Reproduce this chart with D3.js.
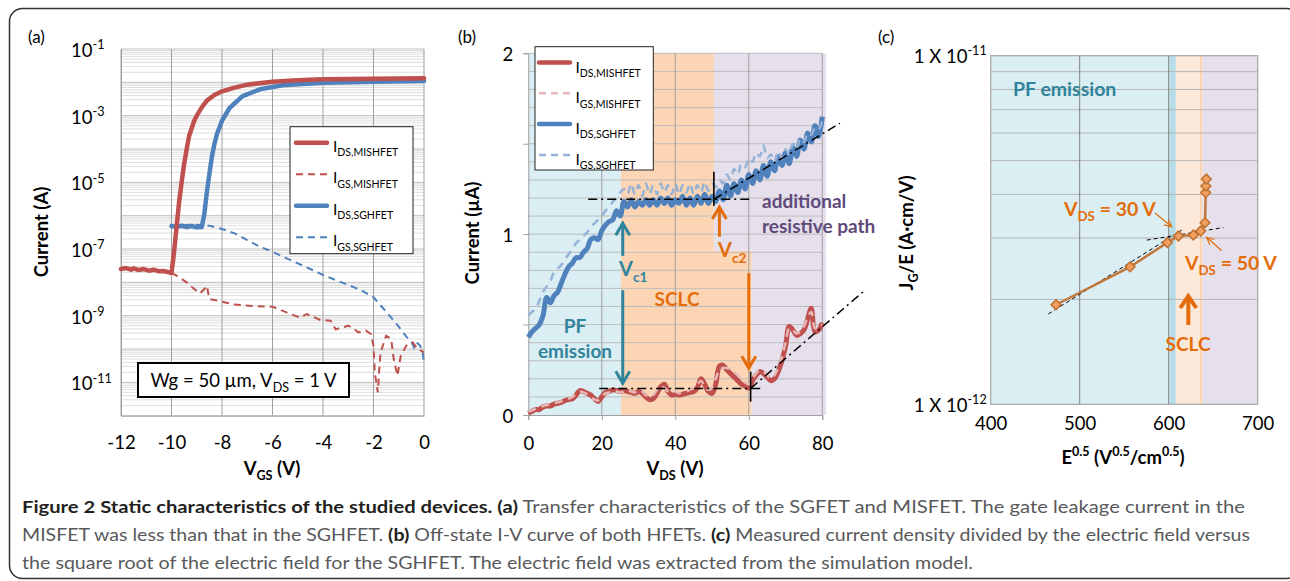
<!DOCTYPE html>
<html><head><meta charset="utf-8">
<script src="https://cdn.jsdelivr.net/npm/d3@7"></script>
<style>
body{margin:0;background:#fff;}
svg{display:block;font-family:Lato,'Open Sans',sans-serif;}
</style></head><body>
<svg id="c" width="1290" height="581"></svg>
<script>
// ================= DATA =================
// Panel (a): transfer characteristics (log10 of current in A)
const vgsIdsMis = [-12,-11.8,-11.6,-11.5,-11.3,-11.1,-10.9,-10.7,-10.5,-10.3,-10.1,-10.0,-9.9,-9.8,-9.7,-9.6,-9.5,-9.4,-9.3,-9.1,-9.0,-8.8,-8.6,-8.3,-8.0,-7.5,-7.0,-6.0,-5.0,-4.0,-2.0,0];
const idsMisLog = [-7.6,-7.57,-7.62,-7.58,-7.63,-7.6,-7.65,-7.62,-7.67,-7.66,-7.7,-7.72,-7.1,-6.35,-5.6,-5.0,-4.45,-4.0,-3.6,-3.15,-3.0,-2.75,-2.55,-2.38,-2.27,-2.16,-2.07,-1.98,-1.94,-1.91,-1.89,-1.88];
const vgsIgsMis = [-10,-9.8,-9.4,-9.1,-8.87,-8.7,-8.6,-8.5,-8.1,-7.56,-6.76,-6,-5.45,-4.9,-4.65,-4.1,-3.7,-3.5,-3.0,-2.8,-2.6,-2.3,-2.1,-2.0,-1.95,-1.83,-1.78,-1.72,-1.5,-1.3,-1.2,-1.05,-0.92,-0.7,-0.45,-0.25,0];
const igsMisLog = [-7.72,-7.8,-8.0,-8.2,-8.33,-8.2,-8.1,-8.5,-8.56,-8.66,-8.71,-8.73,-8.9,-9.06,-8.95,-9.13,-9.15,-9.41,-9.3,-9.38,-9.5,-9.45,-9.55,-9.9,-10.7,-11.3,-10.7,-10.1,-9.6,-9.7,-10.3,-10.8,-10.2,-9.9,-9.8,-10.0,-10.1];
const vgsIdsSg = [-10.0,-9.8,-9.6,-9.4,-9.2,-9.0,-8.8,-8.7,-8.6,-8.5,-8.4,-8.3,-8.2,-8.0,-7.7,-7.2,-6.5,-5.6,-4,-2,0];
const idsSgLog = [-6.31,-6.33,-6.3,-6.34,-6.31,-6.35,-6.34,-5.95,-5.3,-4.75,-4.23,-3.85,-3.55,-3.15,-2.77,-2.42,-2.21,-2.09,-2.01,-1.98,-1.96];
const vgsIgsSg = [-10,-9.5,-9,-8.5,-8,-7.5,-7,-6.5,-6,-5.5,-5,-4.5,-4,-3.5,-3,-2.5,-2,-1.5,-1,-0.7,-0.5,-0.4,-0.3,-0.15,-0.05,0];
const igsSgLog = [-6.3,-6.28,-6.27,-6.3,-6.4,-6.53,-6.73,-6.93,-7.08,-7.26,-7.43,-7.6,-7.78,-7.93,-8.08,-8.23,-8.45,-8.88,-9.33,-9.63,-9.78,-9.95,-9.8,-9.9,-10.1,-10.45];
const xTicksA = [-12,-10,-8,-6,-4,-2,0];
const yTicksAExp = [-1,-3,-5,-7,-9,-11];
const legendA = ["DS,MISHFET","GS,MISHFET","DS,SGHFET","GS,SGHFET"];

// Panel (b): off-state I-V (µA) at VDS = 0..80 V
const vds = d3.range(0, 81);
const idsSgB = [0.43,0.46,0.48,0.50,0.55,0.65,0.62,0.66,0.68,0.73,
 0.78,0.82,0.84,0.87,0.87,0.90,0.92,0.97,0.98,0.97,
 1.02,1.05,1.07,1.08,1.13,1.10,1.18,1.15,1.19,1.15,
 1.18,1.16,1.19,1.16,1.19,1.16,1.20,1.17,1.20,1.16,
 1.19,1.17,1.21,1.16,1.20,1.16,1.21,1.17,1.22,1.17,
 1.21,1.18,1.24,1.19,1.27,1.21,1.28,1.23,1.30,1.25,
 1.33,1.28,1.35,1.30,1.38,1.32,1.40,1.35,1.43,1.38,
 1.45,1.39,1.48,1.43,1.52,1.47,1.56,1.51,1.60,1.54,1.65];
const igsSgB = [0.55,0.57,0.59,0.63,0.68,0.71,0.74,0.79,0.81,0.83,
 0.86,0.89,0.92,0.95,0.97,0.99,1.01,1.04,1.06,1.08,
 1.10,1.13,1.15,1.18,1.20,1.23,1.25,1.22,1.28,1.22,
 1.27,1.21,1.28,1.22,1.27,1.22,1.28,1.23,1.27,1.22,
 1.28,1.22,1.27,1.23,1.28,1.22,1.27,1.23,1.29,1.24,
 1.28,1.26,1.30,1.28,1.33,1.30,1.36,1.33,1.39,1.37,
 1.42,1.40,1.45,1.43,1.49,1.42,1.44,1.40,1.46,1.42,
 1.47,1.44,1.50,1.47,1.53,1.51,1.56,1.55,1.59,1.58,1.63];
const idsMisB = [0.01,0.02,0.03,0.03,0.045,0.05,0.05,0.06,0.065,0.07,
 0.08,0.085,0.09,0.11,0.135,0.13,0.12,0.11,0.09,0.075,
 0.10,0.125,0.13,0.14,0.135,0.13,0.135,0.13,0.125,0.12,
 0.13,0.12,0.10,0.085,0.09,0.12,0.155,0.17,0.13,0.11,
 0.115,0.11,0.115,0.12,0.125,0.13,0.15,0.20,0.17,0.13,
 0.12,0.17,0.27,0.275,0.25,0.23,0.21,0.19,0.17,0.16,
 0.15,0.19,0.22,0.24,0.23,0.21,0.19,0.20,0.24,0.30,
 0.38,0.49,0.47,0.44,0.45,0.47,0.53,0.59,0.46,0.47,0.51];
const igsMisB = [0.02,0.025,0.035,0.04,0.05,0.055,0.06,0.065,0.07,0.075,
 0.085,0.09,0.10,0.115,0.13,0.125,0.115,0.10,0.085,0.08,
 0.10,0.12,0.125,0.135,0.13,0.125,0.13,0.14,0.13,0.125,
 0.14,0.13,0.11,0.10,0.11,0.14,0.16,0.15,0.13,0.12,
 0.13,0.12,0.125,0.13,0.14,0.15,0.17,0.19,0.16,0.14,
 0.15,0.20,0.25,0.26,0.26,0.25,0.24,0.22,0.20,0.18,
 0.17,0.20,0.23,0.25,0.24,0.22,0.20,0.22,0.26,0.32,
 0.40,0.48,0.47,0.45,0.46,0.49,0.54,0.57,0.48,0.48,0.50];
const xTicksB = [0,20,40,60,80];
const yTicksB = [0,1,2];
const legendB = ["DS,MISHFET","GS,MISHFET","DS,SGHFET","GS,SGHFET"];
// conduction regions (V, µA)
const regB_x0 = [0, 25.2, 25.2, 50.5, 60.8];
const regB_x1 = [25.2, 50.5, 60.8, 81, 81];
const regB_y0 = [0, 0.91, 0, 0.91, 0];
const regB_y1 = [2, 2, 0.91, 2, 0.91];
const regB_kind = ["pf","sclc","sclc","res","res"];
// fit guides
const fitB_upH = {x:[16.3,61.2], y:[1.193,1.193]};
const fitB_upD = {x:[50.5,84.8], y:[1.193,1.613]};
const fitB_loH = {x:[19.3,64.0], y:[0.147,0.147]};
const fitB_loD = {x:[60.5,91.9], y:[0.147,0.695]};
const markB = [{v:50.5, y0:1.156, y1:1.345},{v:60.5, y0:0.074, y1:0.24}];
const arrowsB = [
  {v:25.7, from:0.88, to:1.06, c:"teal"},
  {v:25.7, from:0.69, to:0.175, c:"teal"},
  {v:52.0, from:0.986, to:1.15, c:"orange"},
  {v:60.0, from:0.784, to:0.258, c:"orange"}];

// Panel (c): JG/E vs E^0.5
const eSqrt = [473.4, 556.6, 598.5, 610.9, 627.7, 636.0, 640.8, 641.6, 641.8, 642.3];
const jgE = [1.93e-12, 2.48e-12, 2.91e-12, 3.04e-12, 3.06e-12, 3.14e-12, 3.32e-12, 4.05e-12, 4.23e-12, 4.43e-12];
const xTicksC = [400,500,600,700];
const regC_x0 = [400, 600.8, 608, 635.2, 638];
const regC_x1 = [600.8, 608, 635.2, 638, 700];
const regC_kind = ["pf","pfEdge","sclc","sclcEdge","res"];
const fitC1 = {x:[464.8, 614.6], y:[1.816e-12, 3.16e-12]};
const fitC2 = {x:[575.3, 661.4], y:[2.958e-12, 3.214e-12]};

// ================= STYLE =================
const RED="#c0504d", BLUE="#4f81bd", PINK="#e6b9b8", LBLUE="#95b3d7";
const TEAL="#31849b", ORANGE="#e46c0a", PURPLE="#604a7b";
const regColor = {pf:"#daeef3", sclc:"#fcd5b4", res:"#e5e0ec", pfEdge:"#b7dee8", sclcEdge:"#fcd5b4"};
const regColorC = {pf:"#daeef3", pfEdge:"#b7dee8", sclc:"#fde9d9", sclcEdge:"#fcd5b4", res:"#e5e0ec"};

const svg = d3.select("#c");

function rich(t, parts, size){
  let cur = 0;
  parts.forEach(p=>{
    const off = p.sub ? size*0.28 : (p.sup ? -size*0.42 : 0);
    const ts = t.append("tspan").text(p.t);
    if (off-cur !== 0) ts.attr("dy", off-cur);
    if (p.sub||p.sup) ts.attr("font-size", size*0.68);
    cur = off;
  });
  return t;
}
function label(g, x, y, parts, size, opts={}){
  const t = g.append("text").attr("x",x).attr("y",y).attr("font-size",size)
    .attr("text-anchor", opts.anchor||"start").attr("fill", opts.fill||"#000")
    .attr("font-weight", opts.bold?"bold":"normal");
  if (opts.rotate) t.attr("transform", `rotate(-90,${x},${y})`);
  return rich(t, parts, size);
}
function chevron(g, x, ytail, ytip, color, w, hw, hl){
  const dir = ytip < ytail ? 1 : -1;
  g.append("line").attr("x1",x).attr("x2",x).attr("y1",ytail).attr("y2",ytip+dir*1)
    .attr("stroke",color).attr("stroke-width",w);
  g.append("path").attr("d",`M${x-hw},${ytip+dir*hl}L${x},${ytip}L${x+hw},${ytip+dir*hl}`)
    .attr("fill","none").attr("stroke",color).attr("stroke-width",w).attr("stroke-linejoin","miter");
}

// outer frame
svg.append("rect").attr("x",9.5).attr("y",8.5).attr("width",1290).attr("height",570)
  .attr("rx",13).attr("fill","none").attr("stroke","#333").attr("stroke-width",1.5);

// ================= PANEL A =================
const gA = svg.append("g");
const xA = d3.scaleLinear().domain([-12,0]).range([121,424]);
const yA = d3.scaleLog().domain([1e-12,1e-1]).range([415.7,49]);
const minorA = [];
for (let d=-12; d<=-2; d++) for (let k=1; k<=9; k++) minorA.push(k*Math.pow(10,d));
minorA.push(1e-1);
gA.selectAll(".hg").data(minorA).join("line")
  .attr("x1",xA(-12)).attr("x2",xA(0)).attr("y1",d=>yA(d)).attr("y2",d=>yA(d))
  .attr("stroke",d=>Math.abs(Math.log10(d)%1)<1e-9?"#b0b0b0":"#d6d6d6").attr("stroke-width",0.8);
gA.selectAll(".vg").data(xTicksA).join("line")
  .attr("x1",d=>xA(d)).attr("x2",d=>xA(d)).attr("y1",yA(1e-12)).attr("y2",yA(1e-1))
  .attr("stroke","#a0a0a0").attr("stroke-width",1);

const axA = gA.append("g").attr("transform",`translate(0,${yA(1e-12)})`)
  .call(d3.axisBottom(xA).tickValues(xTicksA).tickSize(0).tickFormat(d=>String(d)));
axA.select(".domain").attr("stroke","#a0a0a0");
axA.attr("font-family",null).attr("font-size",null);
axA.selectAll("text").attr("y",33).attr("dy",0).attr("font-size",18.5).attr("fill","#000");

const ayA = gA.append("g").attr("transform",`translate(${xA(-12)},0)`)
  .call(d3.axisLeft(yA).tickValues(yTicksAExp.map(e=>Math.pow(10,e))).tickSize(0).tickFormat(""));
ayA.select(".domain").attr("stroke","#a0a0a0");
ayA.attr("font-family",null).attr("font-size",null);
ayA.selectAll(".tick text").each(function(d){
  const t = d3.select(this).attr("x",-50).attr("dy",0).attr("y",7.5)
    .attr("text-anchor","start").attr("font-size",18.5).attr("fill","#000");
  t.text(null);
  rich(t, [{t:"10"},{t:String(Math.round(Math.log10(d))), sup:true}], 18.5);
});

const lineA = (xs, ys) => d3.line().x((d,i)=>xA(xs[i])).y((d,i)=>yA(Math.pow(10,ys[i])))(xs);
gA.append("path").attr("d",lineA(vgsIgsSg,igsSgLog)).attr("fill","none").attr("stroke",BLUE)
  .attr("stroke-width",2).attr("stroke-dasharray","7,5");
gA.append("path").attr("d",lineA(vgsIgsMis,igsMisLog)).attr("fill","none").attr("stroke",RED)
  .attr("stroke-width",2).attr("stroke-dasharray","7,5");
gA.append("path").attr("d",lineA(vgsIdsSg,idsSgLog)).attr("fill","none").attr("stroke",BLUE)
  .attr("stroke-width",4.5).attr("stroke-linejoin","round").attr("stroke-linecap","round");
gA.append("path").attr("d",lineA(vgsIdsMis,idsMisLog)).attr("fill","none").attr("stroke",RED)
  .attr("stroke-width",4.5).attr("stroke-linejoin","round").attr("stroke-linecap","round");

// legend A
const legAColors=[RED,RED,BLUE,BLUE], legDash=[null,"7,5",null,"7,5"], legW=[4.5,2,4.5,2];
gA.append("rect").attr("x",290).attr("y",126.7).attr("width",123).attr("height",127)
  .attr("fill","#fff").attr("stroke","#222").attr("stroke-width",1);
legendA.forEach((s,i)=>{
  const y = 142.7 + i*31.5;
  gA.append("line").attr("x1",296).attr("x2",327).attr("y1",y).attr("y2",y)
    .attr("stroke",legAColors[i]).attr("stroke-width",legW[i]).attr("stroke-dasharray",legDash[i])
    .attr("stroke-linecap",legDash[i]?"butt":"round");
  label(gA, 333, y+9, [{t:"I"},{t:s,sub:true}], 15.5);
});
// annotation box
gA.append("rect").attr("x",138).attr("y",363).attr("width",211).attr("height",34)
  .attr("fill","#fff").attr("stroke","#000").attr("stroke-width",2);
label(gA, 243.5, 386.5, [{t:"Wg = 50 µm, V"},{t:"DS",sub:true},{t:" = 1 V"}], 18.5, {anchor:"middle"});
// titles
label(gA, 28, 43, [{t:"(a)"}], 17);
label(gA, 48, 232, [{t:"Current (A)"}], 18.5, {anchor:"middle", bold:true, rotate:true});
label(gA, 272, 475, [{t:"V"},{t:"GS",sub:true},{t:" (V)"}], 18.5, {anchor:"middle", bold:true});

// ================= PANEL B =================
const gB = svg.append("g");
const xB = d3.scaleLinear().domain([0,80]).range([528.3,822.3]);
const yB = d3.scaleLinear().domain([0,2]).range([415,53.3]);
regB_x0.forEach((x0,i)=>{
  gB.append("rect").attr("x",xB(x0)).attr("width",xB(regB_x1[i])-xB(x0))
    .attr("y",yB(regB_y1[i])).attr("height",yB(regB_y0[i])-yB(regB_y1[i]))
    .attr("fill",regColor[regB_kind[i]]);
});
gB.selectAll(".hg").data(d3.range(1,21).map(d=>d/10)).join("line")
  .attr("x1",xB(0)).attr("x2",xB(80)).attr("y1",d=>yB(d)).attr("y2",d=>yB(d))
  .attr("stroke","#bdbdbd").attr("stroke-width",1);
gB.selectAll(".vg").data(xTicksB.slice(1)).join("line")
  .attr("x1",d=>xB(d)).attr("x2",d=>xB(d)).attr("y1",yB(0)).attr("y2",yB(2))
  .attr("stroke","#a0a0a0").attr("stroke-width",1);
const axB = gB.append("g").attr("transform",`translate(0,${yB(0)})`)
  .call(d3.axisBottom(xB).tickValues(xTicksB).tickSize(5).tickFormat(d=>String(d)));
axB.attr("font-family",null).attr("font-size",null);
axB.select(".domain").attr("stroke","#a0a0a0");
axB.selectAll("line").attr("stroke","#a0a0a0");
axB.selectAll("text").attr("y",35).attr("dy",0).attr("font-size",18.5).attr("fill","#000");
const ayB = gB.append("g").attr("transform",`translate(${xB(0)},0)`)
  .call(d3.axisLeft(yB).tickValues([0,0.5,1,1.5,2]).tickSize(5).tickFormat(d=>yTicksB.includes(d)?String(d):""));
ayB.attr("font-family",null).attr("font-size",null);
ayB.select(".domain").attr("stroke","#a0a0a0");
ayB.selectAll("line").attr("stroke","#a0a0a0");
ayB.selectAll("text").attr("x",-15).attr("dy",0).attr("y",7).attr("font-size",18.5).attr("fill","#000");

const lineB = ys => d3.line().curve(d3.curveCatmullRom).x((d,i)=>xB(vds[i])).y((d,i)=>yB(ys[i]))(vds);
gB.append("path").attr("d",lineB(idsMisB)).attr("fill","none").attr("stroke",RED)
  .attr("stroke-width",5).attr("stroke-linejoin","round");
gB.append("path").attr("d",lineB(igsMisB)).attr("fill","none").attr("stroke",PINK)
  .attr("stroke-width",2.5).attr("stroke-dasharray","8,6");
gB.append("path").attr("d",lineB(idsSgB)).attr("fill","none").attr("stroke",BLUE)
  .attr("stroke-width",5).attr("stroke-linejoin","round");
gB.append("path").attr("d",lineB(igsSgB)).attr("fill","none").attr("stroke",LBLUE)
  .attr("stroke-width",2.5).attr("stroke-dasharray","8,6");

// fit guides
[fitB_upH, fitB_upD, fitB_loH, fitB_loD].forEach(f=>{
  gB.append("line").attr("x1",xB(f.x[0])).attr("x2",xB(f.x[1])).attr("y1",yB(f.y[0])).attr("y2",yB(f.y[1]))
    .attr("stroke","#000").attr("stroke-width",1.5).attr("stroke-dasharray","9,4,2,4");
});
markB.forEach(m=>{
  gB.append("line").attr("x1",xB(m.v)).attr("x2",xB(m.v)).attr("y1",yB(m.y0)).attr("y2",yB(m.y1))
    .attr("stroke","#000").attr("stroke-width",1.6);
});
arrowsB.forEach(a=>{
  chevron(gB, xB(a.v), yB(a.from), yB(a.to), a.c==="teal"?TEAL:ORANGE, 3, 7, 12);
});

// legend B
const legBColors=[RED,PINK,BLUE,LBLUE];
gB.append("rect").attr("x",535).attr("y",46.7).attr("width",118.3).attr("height",123.3)
  .attr("fill","#fff").attr("stroke","#222").attr("stroke-width",1);
legendB.forEach((s,i)=>{
  const y = 62.5 + i*30.8;
  gB.append("line").attr("x1",539).attr("x2",570).attr("y1",y).attr("y2",y)
    .attr("stroke",legBColors[i]).attr("stroke-width",legW[i]+ (i%2?0.5:0)).attr("stroke-dasharray",legDash[i])
    .attr("stroke-linecap",legDash[i]?"butt":"round");
  label(gB, 575.5, y+10, [{t:"I"},{t:s,sub:true}], 15.5);
});
// annotations
label(gB, 575, 333, [{t:"PF"}], 19, {anchor:"middle", bold:true, fill:TEAL});
label(gB, 575, 358, [{t:"emission"}], 19, {anchor:"middle", bold:true, fill:TEAL});
label(gB, 677, 306, [{t:"SCLC"}], 19, {anchor:"middle", bold:true, fill:ORANGE});
label(gB, 619, 276, [{t:"V"},{t:"c1",sub:true}], 20, {bold:true, fill:TEAL});
label(gB, 718, 257, [{t:"V"},{t:"c2",sub:true}], 20, {bold:true, fill:ORANGE});
label(gB, 762, 208, [{t:"additional"}], 19, {bold:true, fill:PURPLE});
label(gB, 762, 233, [{t:"resistive path"}], 19, {bold:true, fill:PURPLE});
label(gB, 458, 43, [{t:"(b)"}], 17);
label(gB, 479, 233, [{t:"Current (µA)"}], 18.5, {anchor:"middle", bold:true, rotate:true});
label(gB, 675, 475, [{t:"V"},{t:"DS",sub:true},{t:" (V)"}], 18.5, {anchor:"middle", bold:true});

// ================= PANEL C =================
const gC = svg.append("g");
const xC = d3.scaleLinear().domain([400,700]).range([990.7,1257.7]);
const yC = d3.scaleLog().domain([1e-12,1e-11]).range([404.3,55.7]);
regC_x0.forEach((x0,i)=>{
  gC.append("rect").attr("x",xC(x0)).attr("width",xC(regC_x1[i])-xC(x0))
    .attr("y",yC(1e-11)).attr("height",yC(1e-12)-yC(1e-11)).attr("fill",regColorC[regC_kind[i]]);
});
gC.selectAll(".hg").data(d3.range(2,10).map(k=>k*1e-12)).join("line")
  .attr("x1",xC(400)).attr("x2",xC(700)).attr("y1",d=>yC(d)).attr("y2",d=>yC(d))
  .attr("stroke","#b5b5b5").attr("stroke-width",1);
gC.selectAll(".vg").data([500,600]).join("line")
  .attr("x1",d=>xC(d)).attr("x2",d=>xC(d)).attr("y1",yC(1e-12)).attr("y2",yC(1e-11))
  .attr("stroke","#7f7f7f").attr("stroke-width",1);
gC.append("rect").attr("x",xC(400)).attr("y",yC(1e-11)).attr("width",xC(700)-xC(400))
  .attr("height",yC(1e-12)-yC(1e-11)).attr("fill","none").attr("stroke","#a6a6a6").attr("stroke-width",1.2);
const axC = gC.append("g").attr("transform",`translate(0,${yC(1e-12)})`)
  .call(d3.axisBottom(xC).tickValues(xTicksC).tickSize(0).tickFormat(d=>String(d)));
axC.attr("font-family",null).attr("font-size",null);
axC.select(".domain").remove();
axC.selectAll("text").attr("y",26).attr("dy",0).attr("font-size",18.5).attr("fill","#000");
const ayC = gC.append("g").attr("transform",`translate(${xC(400)},0)`)
  .call(d3.axisLeft(yC).tickValues([1e-11,1e-12]).tickSize(0).tickFormat(""));
ayC.attr("font-family",null).attr("font-size",null);
ayC.select(".domain").remove();
ayC.selectAll(".tick text").each(function(d){
  const t = d3.select(this).attr("x",-4).attr("dy",0).attr("y",7)
    .attr("text-anchor","end").attr("font-size",18.5).attr("fill","#000");
  t.text(null);
  rich(t, [{t:"1 X 10"},{t:String(Math.round(Math.log10(d))), sup:true}], 18.5);
});
[fitC1, fitC2].forEach(f=>{
  gC.append("line").attr("x1",xC(f.x[0])).attr("x2",xC(f.x[1])).attr("y1",yC(f.y[0])).attr("y2",yC(f.y[1]))
    .attr("stroke","#000").attr("stroke-width",1).attr("stroke-dasharray","4,3");
});
gC.append("path").attr("d", d3.line().x((d,i)=>xC(eSqrt[i])).y((d,i)=>yC(jgE[i]))(eSqrt))
  .attr("fill","none").attr("stroke","#c0773a").attr("stroke-width",2.5);
gC.selectAll(".pt").data(eSqrt).join("path")
  .attr("d", d3.symbol(d3.symbolSquare, 48)())
  .attr("transform",(d,i)=>`translate(${xC(d)},${yC(jgE[i])}) rotate(45)`)
  .attr("fill","#f0a060").attr("stroke","#c0702f").attr("stroke-width",1.5);

// thin arrows
function thinArrow(g, x1,y1,x2,y2){
  g.append("line").attr("x1",x1).attr("y1",y1).attr("x2",x2).attr("y2",y2).attr("stroke",ORANGE).attr("stroke-width",1.2);
  const a = Math.atan2(y2-y1,x2-x1), L=8, s=0.45;
  g.append("path").attr("d",`M${x2-L*Math.cos(a-s)},${y2-L*Math.sin(a-s)}L${x2},${y2}L${x2-L*Math.cos(a+s)},${y2-L*Math.sin(a+s)}`)
    .attr("fill","none").attr("stroke",ORANGE).attr("stroke-width",1.2);
}
thinArrow(gC, 1155, 213, 1171.7, 226.7);
thinArrow(gC, 1221.7, 250.7, 1206.7, 237.3);
chevron(gC, 1188.3, 325, 296, ORANGE, 4, 8, 12);
label(gC, 1013, 96, [{t:"PF emission"}], 19.5, {bold:true, fill:TEAL});
label(gC, 1064, 216, [{t:"V"},{t:"DS",sub:true},{t:" = 30 V"}], 19.5, {bold:true, fill:ORANGE});
label(gC, 1185, 270, [{t:"V"},{t:"DS",sub:true},{t:" = 50 V"}], 19.5, {bold:true, fill:ORANGE});
label(gC, 1188, 351, [{t:"SCLC"}], 19, {anchor:"middle", bold:true, fill:ORANGE});
label(gC, 878, 43, [{t:"(c)"}], 17);
label(gC, 913, 233, [{t:"J"},{t:"G",sub:true},{t:"/E (A·cm/V)"}], 18.5, {anchor:"middle", bold:true, rotate:true});
label(gC, 1123, 464, [{t:"E"},{t:"0.5",sup:true},{t:" (V"},{t:"0.5",sup:true},{t:"/cm"},{t:"0.5",sup:true},{t:")"}], 18.5, {anchor:"middle", bold:true});

// ================= CAPTION =================
const capLines = [
 [{t:"Figure 2 Static characteristics of the studied devices. (a)", b:true},{t:" Transfer characteristics of the SGFET and MISFET. The gate leakage current in the"}],
 [{t:"MISFET was less than that in the SGHFET. "},{t:"(b)",b:true},{t:" Off-state I-V curve of both HFETs. "},{t:"(c)",b:true},{t:" Measured current density divided by the electric field versus"}],
 [{t:"the square root of the electric field for the SGHFET. The electric field was extracted from the simulation model."}]
];
const capW = [1223, 1228, 951];
capLines.forEach((ln,i)=>{
  const t = svg.append("text").attr("x",22).attr("y",513+i*28).attr("font-size",17)
    .attr("textLength",capW[i]).attr("lengthAdjust","spacingAndGlyphs");
  ln.forEach(p=>t.append("tspan").text(p.t).attr("font-weight",p.b?"bold":"normal").attr("fill",p.b?"#231f20":"#58595b"));
});
</script>
</body></html>
